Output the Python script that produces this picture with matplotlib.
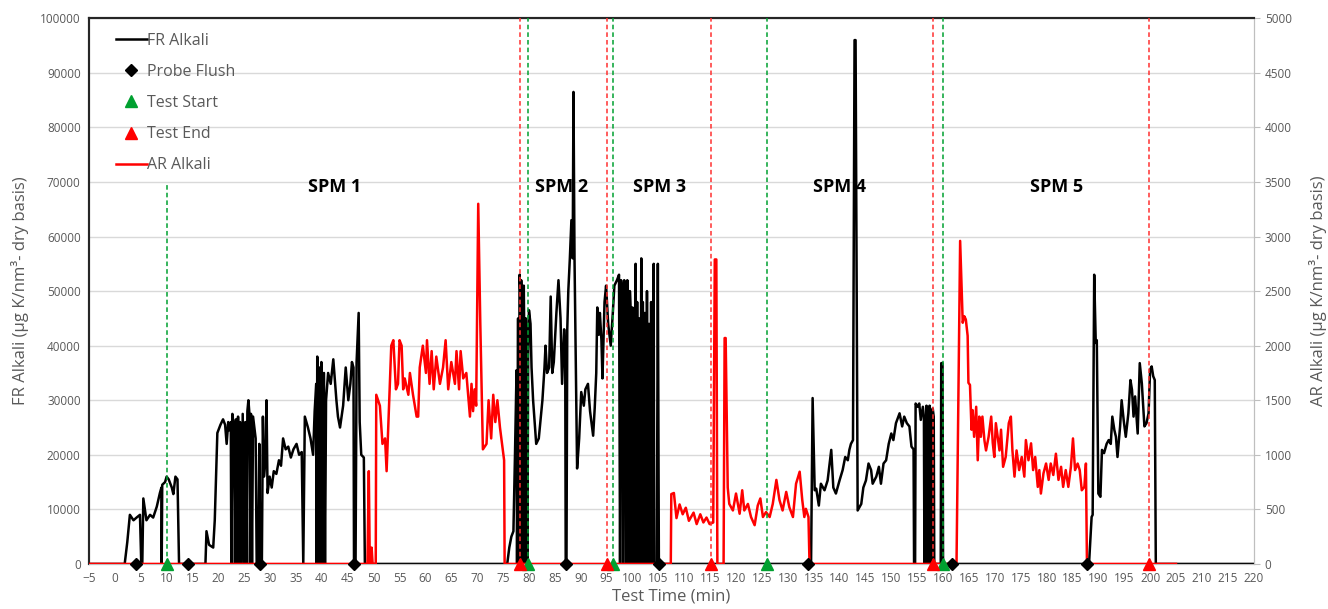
import matplotlib
matplotlib.use("Agg")
import matplotlib.pyplot as plt
from matplotlib.lines import Line2D

plt.rcParams['font.family'] = ['Open Sans', 'DejaVu Sans']

#%% data
# FR Alkali (left axis), (time min, value)
fr_points = [
    (-5, 0), (1.9, 0), (2.4, 4000), (2.9, 9000), (3.6, 8000), (4.2, 8500), (4.85, 9000),
    (5.1, 0), (5.3, 0), (5.5, 12000), (6.1, 8000), (6.8, 9000), (7.4, 8500), (8.1, 10500),
    (8.7, 13000), (9.0, 14000), (9.05, 0), (9.15, 14500), (9.7, 15000), (10.0, 16000),
    (10.4, 15500), (11.0, 14000), (11.3, 12800), (11.7, 16000), (12.1, 15500), (12.4, 0),
    (17.5, 0), (17.7, 6000), (18.2, 3500), (19.0, 3000), (19.3, 8000), (19.8, 24000),
    (20.4, 25500), (20.9, 26500), (21.3, 25500), (21.6, 22000), (21.9, 26000), (22.1, 24500),
    (22.4, 26000), (22.5, 0), (22.7, 27500), (23.0, 25000), (23.2, 0), (23.4, 26500),
    (23.6, 0), (23.8, 27000), (24.0, 0), (24.2, 26000), (24.5, 0), (24.7, 27500),
    (25.0, 0), (25.2, 26000), (25.4, 0), (25.6, 28000), (25.8, 30000), (26.0, 27500), (26.1, 0),
    (26.3, 27500), (26.5, 0), (26.7, 27000), (27.2, 23000), (27.4, 0), (27.7, 0), (27.9, 22000),
    (28.1, 0), (28.4, 0), (28.6, 27000), (28.8, 16000), (29.1, 19000), (29.3, 30000),
    (29.5, 13000), (29.9, 16000), (30.3, 14000), (30.7, 17000), (31.2, 16500), (31.7, 19000),
    (32.1, 18000), (32.5, 23000), (33.0, 21000), (33.5, 21500), (34.0, 19500), (34.5, 21000),
    (35.1, 22000), (35.6, 20000), (36.1, 20500), (36.4, 0), (36.7, 27000), (37.3, 25000),
    (37.8, 23000), (38.3, 20000), (38.6, 28000), (38.9, 33000), (39.0, 0), (39.1, 38000),
    (39.3, 0), (39.5, 36000), (39.7, 0), (39.9, 37000), (40.1, 0), (40.4, 35000),
    (40.6, 0), (40.8, 30000), (41.2, 35000), (41.7, 33000), (42.2, 37500), (42.8, 30000),
    (43.1, 27000), (43.5, 25000), (44.1, 29000), (44.6, 36000), (45.1, 30000), (45.5, 33000),
    (45.8, 37000), (46.1, 36000), (46.2, 0), (46.5, 0), (46.7, 37000), (47.1, 46000),
    (47.3, 26000), (47.6, 20000), (48.1, 19500), (48.3, 0),
    (75.8, 0), (76.2, 3000), (76.6, 5000), (77.0, 6000), (77.3, 20000), (77.6, 35500),
    (77.7, 0), (77.9, 45000), (78.0, 0), (78.2, 53000), (78.3, 50000), (78.4, 0),
    (78.5, 52000), (78.7, 45000), (78.8, 0), (79.0, 51000), (79.2, 30000), (79.3, 0),
    (79.4, 45000), (79.6, 40000), (79.7, 0), (79.85, 38000), (80.0, 46500), (80.3, 44000),
    (80.5, 36000), (80.8, 30000), (81.1, 26000), (81.4, 22000), (81.9, 23000), (82.6, 30000),
    (83.0, 36000), (83.2, 40000), (83.5, 35000), (83.9, 36000), (84.2, 49000), (84.5, 35000),
    (84.8, 37000), (85.3, 46000), (85.7, 52000), (86.1, 45000), (86.4, 33000), (86.8, 43000),
    (87.0, 40000), (87.1, 0), (87.25, 0), (87.4, 43000), (87.6, 50000), (87.9, 56000),
    (88.2, 63000), (88.45, 56000), (88.6, 86500), (88.8, 56000), (89.0, 40000), (89.3, 17500),
    (89.7, 23000), (90.1, 31500), (90.6, 29000), (90.9, 32000), (91.4, 33000), (91.8, 28000),
    (92.4, 23500), (92.7, 28500), (93.0, 35000), (93.2, 47000), (93.5, 42000), (93.7, 46000),
    (94.0, 41000), (94.2, 34000), (94.6, 48000), (94.9, 51000), (95.3, 44000), (95.8, 40000),
    (96.2, 46000), (96.5, 51000), (97.0, 52000), (97.4, 53000), (97.6, 0), (97.8, 52000),
    (98.0, 50000), (98.2, 0), (98.4, 52000), (98.6, 51000), (98.8, 0), (99.0, 52000),
    (99.2, 48000), (99.3, 0), (99.5, 50000), (99.7, 45000), (99.8, 0), (100.0, 47000),
    (100.3, 44000), (100.4, 0), (100.6, 55000), (100.7, 0), (100.9, 48000), (101.1, 0),
    (101.3, 45000), (101.5, 0), (101.7, 56000), (101.8, 0), (102.0, 48000), (102.2, 0),
    (102.4, 46000), (102.6, 0), (102.8, 50000), (103.0, 0), (103.2, 44000), (103.4, 0),
    (103.6, 48000), (103.8, 0), (104.1, 55000), (104.2, 0), (104.7, 0), (104.9, 55000),
    (105.1, 0),
    (134.5, 0), (134.8, 30400), (135.2, 13500), (135.5, 13800), (136.0, 10700), (136.4, 14700),
    (137.1, 13500), (137.7, 15300), (138.4, 20900), (138.8, 14000), (139.3, 12900),
    (140.0, 15300), (140.6, 17200), (141.1, 19600), (141.6, 19000), (141.9, 20900),
    (142.2, 22000), (142.6, 22700), (142.9, 96000), (143.1, 96000), (143.5, 9800),
    (144.2, 11000), (144.6, 14000), (145.1, 15300), (145.6, 18400), (146.1, 17200),
    (146.4, 14700), (147.1, 16000), (147.6, 17800), (148.0, 14700), (148.5, 18400),
    (149.0, 19000), (149.5, 22000), (150.0, 23900), (150.4, 22700), (150.9, 25800),
    (151.6, 27600), (152.1, 25200), (152.5, 27000), (153.0, 25800), (153.5, 25200),
    (153.9, 21500), (154.3, 21000), (154.4, 0), (154.6, 0), (154.7, 29400), (155.1, 28800),
    (155.4, 29400), (155.7, 26400), (156.1, 28800), (156.3, 27000), (156.4, 0), (156.6, 27000),
    (156.7, 0), (156.8, 29000), (157.0, 0), (157.1, 28500), (157.3, 0), (157.4, 29000),
    (157.6, 0), (157.7, 28000), (157.9, 0), (158.0, 28500), (158.2, 27000), (158.3, 0),
    (159.55, 0), (159.65, 36800), (159.9, 36800), (160.0, 0),
    (188.2, 0), (188.7, 8600), (188.9, 9000), (189.2, 53000), (189.5, 40500), (189.7, 41000),
    (190.0, 12900), (190.4, 12300), (190.7, 20900), (191.1, 20300), (191.6, 22000),
    (192.0, 22700), (192.4, 22000), (192.7, 27000), (193.1, 24500), (193.4, 23300),
    (193.7, 19600), (194.2, 25200), (194.5, 30000), (194.9, 26300), (195.3, 23300),
    (195.8, 27600), (196.2, 33700), (196.5, 31900), (196.8, 27000), (197.1, 30700),
    (197.6, 23900), (198.0, 36800), (198.4, 33100), (198.9, 25200), (199.3, 25800),
    (199.7, 27600), (200.0, 35600), (200.3, 36200), (200.6, 34400), (200.9, 33700),
    (201.1, 0), (220, 0),
]

# AR Alkali (right axis), (time min, value)
ar_points = [
    (-5, 0), (48.8, 0), (49.06, 850), (49.25, 0), (49.5, 0), (49.6, 150), (49.8, 0),
    (50.4, 0), (50.5, 1550), (51.2, 1450), (51.7, 1100), (52.2, 1150), (52.5, 850),
    (53.0, 1500), (53.4, 2000), (53.8, 2050), (54.3, 1600), (54.7, 1650), (55.0, 2050),
    (55.4, 2000), (55.7, 1600), (56.0, 1700), (56.7, 1550), (57.0, 1750), (57.6, 1550),
    (58.3, 1350), (58.6, 1350), (58.9, 1800), (59.5, 2000), (60.1, 1750), (60.3, 2050),
    (60.8, 1650), (61.2, 1950), (61.6, 1600), (62.1, 1900), (62.8, 1650), (63.4, 1800),
    (63.9, 2050), (64.4, 1600), (65.0, 1850), (65.7, 1650), (66.0, 1950), (66.5, 1600),
    (66.8, 1950), (67.3, 1700), (67.9, 1750), (68.6, 1350), (68.9, 1650), (69.2, 1400),
    (69.5, 1600), (69.8, 1450), (70.2, 3300), (70.6, 2200), (71.1, 1050), (71.8, 1100),
    (72.2, 1500), (72.7, 1150), (73.1, 1550), (73.5, 1300), (73.9, 1500), (74.4, 1250),
    (74.8, 1100), (75.2, 950), (75.3, 0),
    (107.4, 0), (107.5, 640), (108.0, 650), (108.5, 420), (109.1, 545), (109.7, 455),
    (110.3, 515), (110.9, 395), (111.8, 470), (112.4, 365), (113.1, 455), (113.7, 380),
    (114.3, 425), (114.9, 365), (115.6, 380), (115.9, 2790), (116.2, 2790), (116.4, 0),
    (117.6, 0), (117.8, 2070), (118.0, 2070), (118.4, 700), (118.7, 550), (119.4, 490),
    (120.0, 645), (120.7, 460), (121.2, 675), (121.6, 490), (122.3, 550), (122.9, 430),
    (123.6, 355), (124.2, 535), (124.7, 600), (125.2, 430), (125.8, 475), (126.5, 430),
    (127.1, 550), (127.8, 770), (128.4, 585), (129.0, 490), (129.7, 660), (130.3, 520),
    (131.0, 430), (131.6, 735), (132.3, 845), (132.8, 585), (133.2, 430), (133.5, 505),
    (134.0, 430), (134.2, 0),
    (162.6, 0), (163.3, 2960), (163.8, 2210), (164.1, 2270), (164.4, 2240), (164.75, 2090),
    (164.9, 1660), (165.2, 1640), (165.5, 1230), (165.7, 1410), (166.0, 1165), (166.4, 1440),
    (166.7, 950), (167.0, 1350), (167.3, 1165), (167.6, 1350), (168.0, 1130), (168.3, 1040),
    (168.8, 1165), (169.3, 1350), (169.6, 1110), (169.9, 980), (170.2, 1290), (170.9, 1040),
    (171.2, 1230), (171.6, 890), (172.1, 980), (172.7, 1290), (173.1, 1350), (173.4, 1040),
    (173.8, 800), (174.2, 1040), (174.7, 860), (175.2, 980), (175.7, 800), (176.0, 1135),
    (176.5, 950), (177.0, 1105), (177.4, 860), (177.8, 980), (178.3, 706), (178.6, 860),
    (178.9, 645), (179.4, 830), (179.9, 920), (180.4, 770), (180.8, 920), (181.3, 815),
    (181.8, 1010), (182.3, 770), (182.8, 890), (183.2, 706), (183.7, 860), (184.2, 706),
    (184.7, 890), (185.1, 1150), (185.5, 860), (186.0, 920), (186.4, 860), (186.8, 675),
    (187.3, 706), (187.6, 920), (187.8, 0), (205, 0),
]

probe_flush = [4.1, 14.2, 28.0, 46.2, 87.2, 105.1, 133.9, 161.8, 187.9]
test_start = [10.0, 79.8, 96.2, 126.0, 159.9]
test_end = [78.2, 95.1, 115.1, 158.1, 199.8]

spm_labels = ["SPM 1", "SPM 2", "SPM 3", "SPM 4", "SPM 5"]
spm_x = [42.5, 86.3, 105.2, 140.0, 182.0]

fr_t = [p[0] for p in fr_points]
fr_v = [p[1] for p in fr_points]
ar_t = [p[0] for p in ar_points]
ar_v = [p[1] for p in ar_points]

#%% plot
txt = '#595959'
fig = plt.figure(figsize=(13.28, 6.09), dpi=100)
ax1 = fig.add_axes([0.067, 0.074, 0.877, 0.896])
ax2 = ax1.twinx()

ax1.plot(fr_t, fr_v, color='black', lw=1.8, zorder=3)
ax2.plot(ar_t, ar_v, color='red', lw=1.8, zorder=3)

# test start / end lines
for t in test_start:
    top = 0.695 if t < 20 else 1.0
    ax2.axvline(t, ymax=top, color='#00a030', ls=(0, (3, 2)), lw=1.1, zorder=4)
for t in test_end:
    ax2.axvline(t, color='#ff3030', ls=(0, (3, 2)), lw=1.1, zorder=4)

ax2.plot(probe_flush, [0] * len(probe_flush), 'D', color='black', ms=6, zorder=5, clip_on=False)
ax2.plot(test_start, [0] * len(test_start), '^', color='#00a030', ms=8, zorder=5, clip_on=False)
ax2.plot(test_end, [0] * len(test_end), '^', color='red', ms=8, zorder=5, clip_on=False)

for lab, x in zip(spm_labels, spm_x):
    ax1.text(x, 69000, lab, ha='center', va='center', fontsize=13, fontweight='bold', color='black', zorder=6)

ax1.set_xlim(-5, 220)
ax1.set_ylim(0, 100000)
ax2.set_ylim(0, 5000)
ax1.set_xticks(range(-5, 221, 5))
ax1.set_yticks(range(0, 100001, 10000))
ax2.set_yticks(range(0, 5001, 500))

ax1.grid(axis='y', color='#d9d9d9', lw=1)
ax1.set_axisbelow(True)

ax1.tick_params(axis='both', length=0, labelsize=8.5, labelcolor=txt, pad=6)
ax2.tick_params(axis='y', length=4, color='#bfbfbf', labelsize=8.5, labelcolor=txt, pad=4)

for a in (ax1, ax2):
    a.spines['left'].set_color('#262626')
    a.spines['left'].set_linewidth(1.5)
    a.spines['top'].set_color('#262626')
    a.spines['top'].set_linewidth(1.5)
    a.spines['right'].set_color('#bfbfbf')
    a.spines['bottom'].set_color('#bfbfbf')

ax1.set_xlabel("Test Time (min)", fontsize=12, color=txt, labelpad=2)
ax1.set_ylabel("FR Alkali (µg K/nm³- dry basis)", fontsize=12, color=txt, labelpad=8)
ax2.set_ylabel("AR Alkali (µg K/nm³- dry basis)", fontsize=12, color=txt, rotation=90, labelpad=12)

handles = [
    Line2D([], [], color='black', lw=1.8),
    Line2D([], [], marker='D', color='black', ls='none', ms=6),
    Line2D([], [], marker='^', color='#00a030', ls='none', ms=8),
    Line2D([], [], marker='^', color='red', ls='none', ms=8),
    Line2D([], [], color='red', lw=1.8),
]
names = ["FR Alkali", "Probe Flush", "Test Start", "Test End", "AR Alkali"]
leg = ax2.legend(handles, names, loc='upper left', bbox_to_anchor=(0.011, 1.0), frameon=False,
                 fontsize=11.5, labelspacing=0.95, handlelength=1.9, handletextpad=0.0,
                 labelcolor=txt)
leg.set_zorder(10)

fig.savefig("out.png", dpi=100)
